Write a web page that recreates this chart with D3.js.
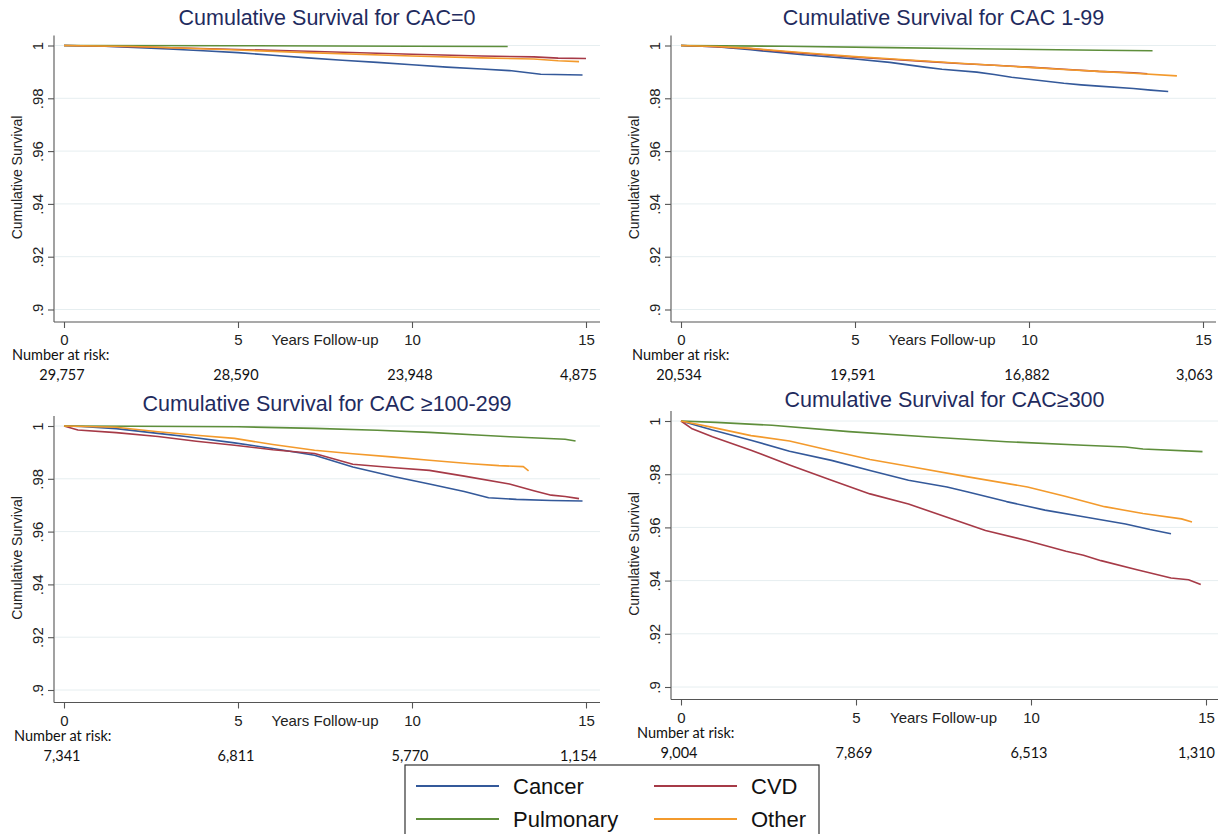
<!DOCTYPE html>
<html>
<head>
<meta charset="utf-8">
<script src="https://cdn.jsdelivr.net/npm/d3@7"></script>
<style>
  body { margin: 0; background: #fff; }
  svg { display: block; font-family: "Liberation Sans", Arial, sans-serif; }
  .risk { font-family: Lato, "Open Sans", sans-serif; }
</style>
</head>
<body>
<div id="chart"></div>
<script>
// ---- data ----
const seriesNames = ["Cancer", "CVD", "Pulmonary", "Other"];
const seriesColors = ["#34599a", "#a63a47", "#5e8e3b", "#f39a2c"];
const panelTitles = [
  "Cumulative Survival for CAC=0",
  "Cumulative Survival for CAC 1-99",
  "Cumulative Survival for CAC \u2265100-299",
  "Cumulative Survival for CAC\u2265300"
];
const xTicks = [0, 5, 10, 15];
const yTicks = [0.9, 0.92, 0.94, 0.96, 0.98, 1];

const riskCAC0 = [29757, 28590, 23948, 4875];
const riskCAC1 = [20534, 19591, 16882, 3063];
const riskCAC100 = [7341, 6811, 5770, 1154];
const riskCAC300 = [9004, 7869, 6513, 1310];

// [years, survival]
const cac0Cancer = [[0,1],[1,0.9998],[2,0.9993],[3,0.9987],[4,0.998],[5,0.9973],[6,0.9963],[7,0.9953],[8,0.9944],[9,0.9936],[10,0.9927],[11,0.9918],[12,0.9911],[12.8,0.9905],[13.7,0.9891],[14.9,0.9888]];
const cac0CVD = [[0,1],[2,0.9995],[5,0.9985],[7,0.9978],[10,0.9967],[12,0.996],[13.5,0.9957],[14.2,0.9952],[15,0.9951]];
const cac0Pulm = [[0,1],[5,0.9999],[10,0.9997],[12.75,0.9996]];
const cac0Other = [[0,1],[2,0.9996],[5,0.9983],[7,0.9973],[10,0.996],[12,0.9953],[13.5,0.9949],[14.2,0.9942],[14.8,0.9939]];

const cac1Cancer = [[0,1],[1,0.9995],[2,0.9984],[2.5,0.9977],[3.5,0.9965],[5,0.9949],[6,0.9936],[7,0.9918],[7.5,0.991],[8.5,0.9899],[9,0.989],[9.5,0.988],[10,0.9872],[11,0.9857],[11.5,0.9851],[12,0.9846],[13,0.9837],[13.5,0.9831],[14,0.9826]];
const cac1CVD = [[0,1],[1,0.9995],[2,0.9988],[3,0.9976],[4,0.9966],[5,0.9956],[6,0.9948],[7,0.994],[8,0.9932],[9,0.9925],[10,0.9918],[11,0.991],[12,0.9902],[13,0.9897],[13.4,0.9893]];
const cac1Pulm = [[0,1],[3,0.9997],[6,0.9992],[9,0.9987],[12,0.9982],[13.55,0.998]];
const cac1Other = [[0,1],[1,0.9996],[2,0.9989],[3,0.9978],[4,0.9968],[5,0.9958],[6,0.995],[7,0.9941],[8,0.9933],[9,0.9925],[10,0.9917],[11,0.9909],[12,0.9902],[13,0.9895],[14.25,0.9885]];

const cac100Cancer = [[0,1],[0.5,0.9998],[1.5,0.999],[2.7,0.9972],[3.5,0.996],[4.9,0.9936],[6,0.9915],[7.2,0.9889],[8.3,0.9845],[9.5,0.9808],[10.5,0.978],[11.5,0.9752],[12.2,0.9728],[13,0.9722],[14,0.9718],[14.9,0.9716]];
const cac100CVD = [[0,1],[0.4,0.9985],[1.5,0.9975],[2.7,0.996],[3.8,0.9942],[4.9,0.9927],[6,0.991],[7.2,0.9896],[8.3,0.9855],[9.5,0.9842],[10.5,0.9832],[11.5,0.981],[12.8,0.978],[13.5,0.9755],[14,0.9738],[14.4,0.9733],[14.8,0.9725]];
const cac100Pulm = [[0,1],[2,0.9999],[5,0.9997],[7.2,0.9991],[9,0.9984],[10.5,0.9976],[12,0.9965],[12.8,0.9959],[14.4,0.995],[14.7,0.9943]];
const cac100Other = [[0,1],[1.5,0.9995],[2.7,0.9978],[3.8,0.9965],[4.9,0.9953],[6,0.993],[7.2,0.9908],[8.3,0.9895],[9.4,0.9883],[10.5,0.987],[11.7,0.9857],[12.5,0.985],[13.2,0.9846],[13.35,0.983]];

const cac300Cancer = [[0,1],[0.9,0.9966],[2,0.9928],[3.1,0.9886],[4.3,0.9852],[5.4,0.9814],[6.5,0.9777],[7.6,0.9752],[8.2,0.9733],[9.3,0.9697],[10.4,0.9665],[11.5,0.964],[12.7,0.9613],[13.4,0.9592],[14,0.9576]];
const cac300CVD = [[0,1],[0.3,0.9972],[0.9,0.9941],[2,0.989],[3.1,0.9835],[4.3,0.9777],[5.4,0.9726],[6.5,0.9688],[7.6,0.9638],[8.7,0.9588],[9.9,0.955],[11,0.951],[11.5,0.9495],[12,0.9475],[13,0.9442],[14,0.941],[14.5,0.9403],[14.85,0.9385]];
const cac300Pulm = [[0,1],[1,0.9995],[2.6,0.9984],[4.8,0.996],[7,0.9941],[9.3,0.9922],[11.5,0.9909],[12.7,0.9902],[13.2,0.9895],[14.9,0.9885]];
const cac300Other = [[0,1],[0.9,0.9976],[2,0.9945],[3.1,0.9925],[4.3,0.9888],[5.4,0.9855],[6.5,0.983],[8.2,0.979],[9.9,0.9752],[11,0.9716],[12.1,0.9678],[13.2,0.9652],[14.3,0.9632],[14.6,0.962]];

const panelCurves = [
  [cac0Cancer, cac0CVD, cac0Pulm, cac0Other],
  [cac1Cancer, cac1CVD, cac1Pulm, cac1Other],
  [cac100Cancer, cac100CVD, cac100Pulm, cac100Other],
  [cac300Cancer, cac300CVD, cac300Pulm, cac300Other]
];
const panelRisk = [riskCAC0, riskCAC1, riskCAC100, riskCAC300];

// ---- layout ----
const width = 1228, height = 834;
const layout = [
  { x0: 64,  x1: 586,  axisX: 54,  right: 600,  yTop: 45.5, yBot: 309.5, titleY: 18,  riskX: 12 },
  { x0: 681, x1: 1203, axisX: 671, right: 1216, yTop: 45.5, yBot: 309.5, titleY: 18,  riskX: 632 },
  { x0: 64,  x1: 586,  axisX: 54,  right: 600,  yTop: 426,  yBot: 690,   titleY: 404, riskX: 14 },
  { x0: 681, x1: 1206, axisX: 671, right: 1218, yTop: 421,  yBot: 687,   titleY: 400, riskX: 637 }
];

const svg = d3.select("#chart").append("svg")
  .attr("width", width)
  .attr("height", height);

svg.append("rect").attr("width", width).attr("height", height).attr("fill", "#fff");

const fmtY = d => String(d).replace(/^0/, "");
const fmtN = d3.format(",");

layout.forEach((L, i) => {
  const x = d3.scaleLinear().domain([0, 15]).range([L.x0, L.x1]);
  const y = d3.scaleLinear().domain([0.9, 1]).range([L.yBot, L.yTop]);
  const xAxisY = L.yBot + 12.5;
  const g = svg.append("g").attr("class", "panel");

  // title
  g.append("text")
    .attr("x", (L.axisX + L.right) / 2)
    .attr("y", L.titleY)
    .attr("text-anchor", "middle")
    .attr("dominant-baseline", "central")
    .attr("font-size", 21.5)
    .attr("fill", "#1f2b5e")
    .text(panelTitles[i]);

  // grid
  g.append("g").selectAll("line").data(yTicks).join("line")
    .attr("x1", L.axisX + 1).attr("x2", L.right)
    .attr("y1", d => y(d)).attr("y2", d => y(d))
    .attr("stroke", "#e6eef0").attr("stroke-width", 1);

  // y axis
  const yAxis = g.append("g")
    .attr("transform", `translate(${L.axisX},0)`)
    .call(d3.axisLeft(y).tickValues(yTicks).tickFormat(fmtY).tickSize(6).tickSizeOuter(0));
  yAxis.select(".domain").attr("d", `M0,${L.yTop - 10}V${xAxisY}`);
  yAxis.selectAll("line, path").attr("stroke", "#555").attr("stroke-width", 1.1);
  yAxis.selectAll(".tick text")
    .attr("x", null).attr("dy", null)
    .attr("transform", "translate(-11,0) rotate(-90)")
    .attr("text-anchor", "middle")
    .attr("font-size", 15)
    .attr("font-family", "Liberation Sans, Arial, sans-serif")
    .attr("fill", "#222");

  g.append("text")
    .attr("transform", `translate(${L.axisX - 32},${(L.yTop + L.yBot) / 2}) rotate(-90)`)
    .attr("text-anchor", "middle")
    .attr("font-size", 14)
    .attr("fill", "#222")
    .text("Cumulative Survival");

  // x axis
  const xAxis = g.append("g")
    .attr("transform", `translate(0,${xAxisY})`)
    .call(d3.axisBottom(x).tickValues(xTicks).tickSize(6).tickSizeOuter(0));
  xAxis.select(".domain").attr("d", `M${L.axisX},0H${L.right}`);
  xAxis.selectAll("line, path").attr("stroke", "#555").attr("stroke-width", 1.1);
  xAxis.selectAll(".tick text")
    .attr("y", 23).attr("dy", null)
    .attr("font-size", 15)
    .attr("font-family", "Liberation Sans, Arial, sans-serif")
    .attr("fill", "#222");

  g.append("text")
    .attr("x", (x(5) + x(10)) / 2)
    .attr("y", xAxisY + 23)
    .attr("text-anchor", "middle")
    .attr("font-size", 15)
    .attr("fill", "#222")
    .text("Years Follow-up");

  // number at risk
  g.append("text")
    .attr("class", "risk")
    .attr("x", L.riskX)
    .attr("y", xAxisY + 38)
    .attr("font-size", 14.5)
    .attr("fill", "#111")
    .text("Number at risk:");

  g.append("g").selectAll("text").data(panelRisk[i]).join("text")
    .attr("class", "risk")
    .attr("x", (d, k) => k === xTicks.length - 1 ? L.right - 3 : x(xTicks[k]) - 2)
    .attr("y", xAxisY + 58)
    .attr("text-anchor", (d, k) => k === xTicks.length - 1 ? "end" : "middle")
    .attr("font-size", 14.5)
    .attr("fill", "#111")
    .text(d => fmtN(d));

  // curves
  const line = d3.line().x(d => x(d[0])).y(d => y(d[1]));
  g.append("g").selectAll("path").data(panelCurves[i]).join("path")
    .attr("d", line)
    .attr("fill", "none")
    .attr("stroke", (d, k) => seriesColors[k])
    .attr("stroke-width", 1.6)
    .attr("stroke-linejoin", "round");
});

// legend
const legend = svg.append("g").attr("transform", "translate(405,765)");
legend.append("rect")
  .attr("width", 414).attr("height", 80)
  .attr("fill", "#fff").attr("stroke", "#333").attr("stroke-width", 1.2);
const items = legend.selectAll("g.item").data(seriesNames).join("g")
  .attr("class", "item")
  .attr("transform", (d, k) => `translate(${(k % 2) * 238},${Math.floor(k / 2) * 33})`);
items.append("line")
  .attr("x1", 11).attr("x2", 94).attr("y1", 21).attr("y2", 21)
  .attr("stroke", (d, k) => seriesColors[k]).attr("stroke-width", 2);
items.append("text")
  .attr("x", 108).attr("y", 21)
  .attr("dominant-baseline", "central")
  .attr("font-size", 22)
  .attr("fill", "#111")
  .text(d => d);
</script>
</body>
</html>
